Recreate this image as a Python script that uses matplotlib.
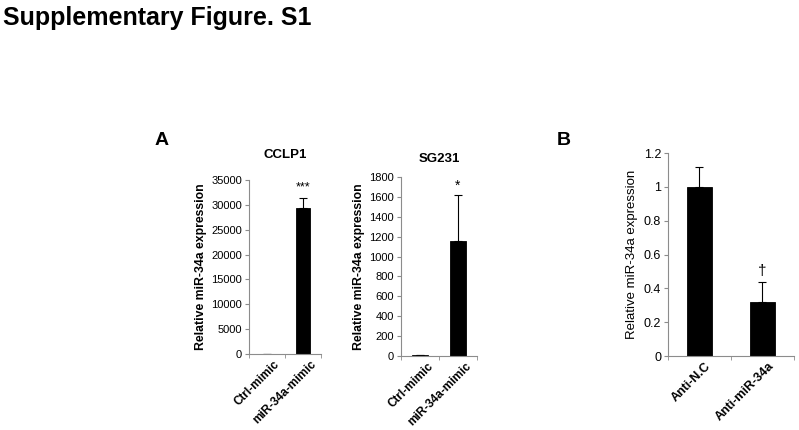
import matplotlib
matplotlib.use('Agg')
import matplotlib.pyplot as plt
from matplotlib.transforms import ScaledTranslation

plt.rcParams['font.family'] = ['Liberation Sans', 'DejaVu Sans']

# 数据
groups_a = ['Ctrl-mimic', 'miR-34a-mimic']
cclp1_vals = [60, 29300]
cclp1_err = [0, 2100]
sg231_vals = [5, 1160]
sg231_err = [0, 455]

groups_b = ['Anti-N.C', 'Anti-miR-34a']
b_vals = [1.0, 0.32]
b_err = [0.115, 0.12]

axis_gray = '#8c8c8c'


def style_axes(fig, ax, labels, ymax, ystep, tick_size=8, xlab_size=8.5, shift=5):
    n = len(labels)
    ax.set_xlim(-0.5, n - 0.5)
    ax.set_ylim(0, ymax)
    ax.set_yticks([i * ystep for i in range(int(round(ymax / ystep)) + 1)])
    for s in ['top', 'right']:
        ax.spines[s].set_visible(False)
    for s in ['left', 'bottom']:
        ax.spines[s].set_color(axis_gray)
        ax.spines[s].set_linewidth(0.8)
    ax.tick_params(axis='y', direction='out', length=3, color=axis_gray,
                   labelsize=tick_size, pad=2)
    ax.set_xticks(range(n))
    ax.set_xticks([i - 0.5 for i in range(n + 1)], minor=True)
    ax.tick_params(axis='x', which='major', length=0, pad=3)
    ax.tick_params(axis='x', which='minor', length=3, color=axis_gray, direction='out')
    ax.set_xticklabels(labels, rotation=45, ha='right', rotation_mode='anchor',
                       fontsize=xlab_size, fontweight='bold')
    # 标签稍微往右挪一点
    offset = ScaledTranslation(shift / 72, 0, fig.dpi_scale_trans)
    for lab in ax.get_xticklabels():
        lab.set_transform(lab.get_transform() + offset)


def draw_bars(ax, vals, errs, width):
    x = list(range(len(vals)))
    ax.bar(x, vals, width=width, color='black', edgecolor='black', linewidth=0.6)
    ax.errorbar(x, vals, yerr=[[0] * len(errs), errs], fmt='none', ecolor='black',
                elinewidth=0.8, capsize=3, capthick=0.8)


fig = plt.figure(figsize=(7.99, 4.30), dpi=100)

fig.text(0.004, 0.985, 'Supplementary Figure. S1', fontsize=18, fontweight='bold',
         ha='left', va='top')

# A - CCLP1
ax1 = fig.add_axes([0.3116, 0.1767, 0.0901, 0.4047])
draw_bars(ax1, cclp1_vals, cclp1_err, 0.4)
style_axes(fig, ax1, groups_a, 35000, 5000)
ax1.set_ylabel('Relative miR-34a expression', fontsize=8.8, fontweight='bold', labelpad=3)
ax1.set_title('CCLP1', fontsize=9.5, fontweight='bold', pad=16)
ax1.text(1, 32300, '***', ha='center', va='bottom', fontsize=9)
fig.text(0.193, 0.674, 'A', fontsize=14, fontweight='bold', ha='left', va='center')

# A - SG231
ax2 = fig.add_axes([0.5019, 0.1721, 0.0951, 0.4163])
draw_bars(ax2, sg231_vals, sg231_err, 0.4)
style_axes(fig, ax2, groups_a, 1800, 200)
ax2.set_ylabel('Relative miR-34a expression', fontsize=8.8, fontweight='bold', labelpad=3)
ax2.set_title('SG231', fontsize=9.5, fontweight='bold', pad=11)
ax2.text(1, 1640, '*', ha='center', va='bottom', fontsize=10)

# B
ax3 = fig.add_axes([0.836, 0.172, 0.1577, 0.472])
draw_bars(ax3, b_vals, b_err, 0.4)
style_axes(fig, ax3, groups_b, 1.2, 0.2, tick_size=9, xlab_size=9, shift=4)
ax3.set_yticklabels(['0', '0.2', '0.4', '0.6', '0.8', '1', '1.2'])
ax3.set_ylabel('Relative miR-34a expression', fontsize=9.5, labelpad=4)
ax3.text(1, 0.46, '\u2020', ha='center', va='bottom', fontsize=11)
fig.text(0.697, 0.674, 'B', fontsize=14, fontweight='bold', ha='left', va='center')

fig.savefig('out.png', dpi=100)
plt.close(fig)
